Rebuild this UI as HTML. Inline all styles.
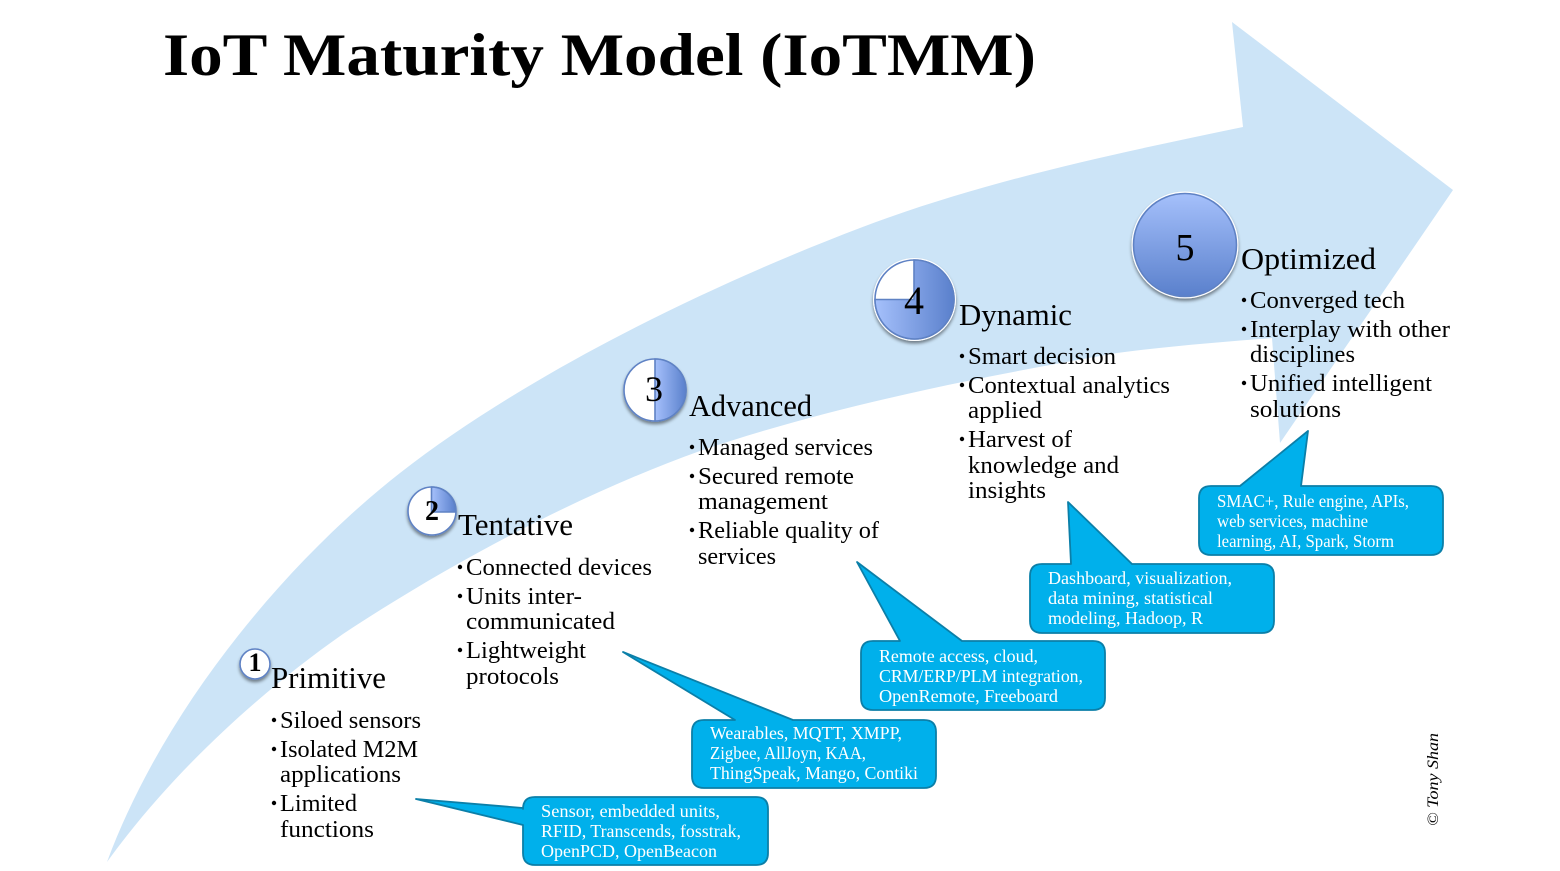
<!DOCTYPE html>
<html><head><meta charset="utf-8"><style>
html,body{margin:0;padding:0;background:#fff}
svg{display:block}
text{font-family:"Liberation Serif",serif;fill:#000}
.h{font-size:31px}
.b{font-size:24px}
.c{font-size:17.5px;fill:#fff}
</style></head><body>
<svg width="1560" height="871" viewBox="0 0 1560 871" xmlns="http://www.w3.org/2000/svg">
<defs>
<linearGradient id="gh" x1="0" y1="0" x2="1" y2="0"><stop offset="0" stop-color="#a5c0fb"/><stop offset="1" stop-color="#5a80cc"/></linearGradient>
<linearGradient id="gv" x1="0" y1="0" x2="0" y2="1"><stop offset="0" stop-color="#a5c0fb"/><stop offset="1" stop-color="#5a80cc"/></linearGradient>
<filter id="sh" x="-30%" y="-30%" width="160%" height="160%"><feDropShadow dx="0" dy="2.500" stdDeviation="1.500" flood-color="#000" flood-opacity=".45"/></filter>
</defs>
<path fill="#cce4f7" d="M107,862 C165,705 290,559 400,473 C525,375.500 705,287 860,228 C985,180.500 1118,153 1243,127 L1232,22 L1453,190 L1280,443 L1272,338 C1220,342 1170,346 1117,353 C985,376 835,405 700,451 C580,494 452,562 343,634 C270,685 177,765 107,862 Z"/>

<text x="163" y="75" font-size="60" font-weight="bold" textLength="873" lengthAdjust="spacingAndGlyphs">IoT Maturity Model (IoTMM)</text>

<!-- callouts -->
<g fill="#00b0eb" stroke="#0b7fa8" stroke-width="1.800" stroke-linejoin="round">
<path d="M535,797 H756 Q768,797 768,809 V853 Q768,865 756,865 H535 Q523,865 523,853 V825 L416,799 L523,808 V809 Q523,797 535,797 Z"/>
<path d="M704,720 H735 L623,652 L793,720 H924 Q936,720 936,732 V776 Q936,788 924,788 H704 Q692,788 692,776 V732 Q692,720 704,720 Z"/>
<path d="M873,641 H900 L857,562 L962,641 H1093 Q1105,641 1105,653 V698 Q1105,710 1093,710 H873 Q861,710 861,698 V653 Q861,641 873,641 Z"/>
<path d="M1042,564 H1071 L1068,502 L1132,564 H1262 Q1274,564 1274,576 V621 Q1274,633 1262,633 H1042 Q1030,633 1030,621 V576 Q1030,564 1042,564 Z"/>
<path d="M1211,486 H1240 L1308,431 L1301,486 H1431 Q1443,486 1443,498 V543 Q1443,555 1431,555 H1211 Q1199,555 1199,543 V498 Q1199,486 1211,486 Z"/>
</g>

<text class="c" x="541" y="817" textLength="179" lengthAdjust="spacingAndGlyphs">Sensor, embedded units,</text>
<text class="c" x="541" y="837" textLength="200" lengthAdjust="spacingAndGlyphs">RFID, Transcends, fosstrak,</text>
<text class="c" x="541" y="857" textLength="176" lengthAdjust="spacingAndGlyphs">OpenPCD, OpenBeacon</text>
<text class="c" x="710" y="739" textLength="192" lengthAdjust="spacingAndGlyphs">Wearables, MQTT, XMPP,</text>
<text class="c" x="710" y="759" textLength="156" lengthAdjust="spacingAndGlyphs">Zigbee, AllJoyn, KAA,</text>
<text class="c" x="710" y="779" textLength="208" lengthAdjust="spacingAndGlyphs">ThingSpeak, Mango, Contiki</text>
<text class="c" x="879" y="662" textLength="159" lengthAdjust="spacingAndGlyphs">Remote access, cloud,</text>
<text class="c" x="879" y="682" textLength="204" lengthAdjust="spacingAndGlyphs">CRM/ERP/PLM integration,</text>
<text class="c" x="879" y="702" textLength="179" lengthAdjust="spacingAndGlyphs">OpenRemote, Freeboard</text>
<text class="c" x="1048" y="584" textLength="184" lengthAdjust="spacingAndGlyphs">Dashboard, visualization,</text>
<text class="c" x="1048" y="604" textLength="165" lengthAdjust="spacingAndGlyphs">data mining, statistical</text>
<text class="c" x="1048" y="624" textLength="155" lengthAdjust="spacingAndGlyphs">modeling, Hadoop, R</text>
<text class="c" x="1217" y="507" textLength="192" lengthAdjust="spacingAndGlyphs">SMAC+, Rule engine, APIs,</text>
<text class="c" x="1217" y="527" textLength="151" lengthAdjust="spacingAndGlyphs">web services, machine</text>
<text class="c" x="1217" y="547" textLength="177" lengthAdjust="spacingAndGlyphs">learning, AI, Spark, Storm</text>

<!-- Harvey balls -->
<g stroke="#5f82c4" stroke-width="1.600">
<circle cx="255" cy="664" r="15" fill="#fff" filter="url(#sh)"/>
<circle cx="432" cy="511" r="24" fill="#fff" filter="url(#sh)"/>
<path d="M431.500,512 V487 A24,24 0 0 1 455.500,512 Z" fill="url(#gh)"/>
<circle cx="655" cy="390" r="31" fill="#fff" filter="url(#sh)"/>
<path d="M655,359 A31,31 0 0 1 655,421 Z" fill="url(#gh)"/>
<circle cx="914.500" cy="299.500" r="41.500" fill="#fff" stroke="none" filter="url(#sh)"/>
<circle cx="914.500" cy="299.500" r="39.500" fill="#fff"/>
<path d="M914,299.500 V260 A39.500,39.500 0 1 1 875,299.500 Z" fill="url(#gh)"/>
<circle cx="1185" cy="245" r="53.500" fill="#fff" stroke="none" filter="url(#sh)"/>
<circle cx="1185" cy="245" r="51.500" fill="url(#gv)"/>
</g>
<text x="255" y="671" font-size="26" font-weight="bold" text-anchor="middle">1</text>
<text x="432" y="520" font-size="28" font-weight="bold" text-anchor="middle">2</text>
<text x="654" y="401" font-size="36" text-anchor="middle">3</text>
<text x="914" y="314" font-size="40" text-anchor="middle">4</text>
<text x="1185" y="260" font-size="38" text-anchor="middle">5</text>

<!-- Headings -->
<text class="h" x="271" y="688" textLength="115" lengthAdjust="spacingAndGlyphs">Primitive</text>
<text class="h" x="458" y="535" textLength="115" lengthAdjust="spacingAndGlyphs">Tentative</text>
<text class="h" x="689" y="416" textLength="123" lengthAdjust="spacingAndGlyphs">Advanced</text>
<text class="h" x="959" y="325" textLength="113" lengthAdjust="spacingAndGlyphs">Dynamic</text>
<text class="h" x="1241" y="269" textLength="135" lengthAdjust="spacingAndGlyphs">Optimized</text>

<!-- Bullets -->
<g fill="#000">
<circle cx="274" cy="720" r="2.200"/><circle cx="274" cy="749" r="2.200"/><circle cx="274" cy="803" r="2.200"/>
<circle cx="460" cy="567" r="2.200"/><circle cx="460" cy="596" r="2.200"/><circle cx="460" cy="650" r="2.200"/>
<circle cx="692" cy="447" r="2.200"/><circle cx="692" cy="476" r="2.200"/><circle cx="692" cy="530" r="2.200"/>
<circle cx="962" cy="356" r="2.200"/><circle cx="962" cy="385" r="2.200"/><circle cx="962" cy="439" r="2.200"/>
<circle cx="1244" cy="300" r="2.200"/><circle cx="1244" cy="329" r="2.200"/><circle cx="1244" cy="383" r="2.200"/>
</g>

<text class="b" x="280" y="728" textLength="141" lengthAdjust="spacingAndGlyphs">Siloed sensors</text>
<text class="b" x="280" y="757" textLength="138" lengthAdjust="spacingAndGlyphs">Isolated M2M</text>
<text class="b" x="280" y="782" textLength="121" lengthAdjust="spacingAndGlyphs">applications</text>
<text class="b" x="280" y="811" textLength="77" lengthAdjust="spacingAndGlyphs">Limited</text>
<text class="b" x="280" y="837" textLength="94" lengthAdjust="spacingAndGlyphs">functions</text>

<text class="b" x="466" y="575" textLength="186" lengthAdjust="spacingAndGlyphs">Connected devices</text>
<text class="b" x="466" y="604" textLength="116" lengthAdjust="spacingAndGlyphs">Units inter-</text>
<text class="b" x="466" y="629" textLength="149" lengthAdjust="spacingAndGlyphs">communicated</text>
<text class="b" x="466" y="658" textLength="120" lengthAdjust="spacingAndGlyphs">Lightweight</text>
<text class="b" x="466" y="684" textLength="93" lengthAdjust="spacingAndGlyphs">protocols</text>

<text class="b" x="698" y="455" textLength="175" lengthAdjust="spacingAndGlyphs">Managed services</text>
<text class="b" x="698" y="484" textLength="156" lengthAdjust="spacingAndGlyphs">Secured remote</text>
<text class="b" x="698" y="509" textLength="130" lengthAdjust="spacingAndGlyphs">management</text>
<text class="b" x="698" y="538" textLength="181" lengthAdjust="spacingAndGlyphs">Reliable quality of</text>
<text class="b" x="698" y="564" textLength="78" lengthAdjust="spacingAndGlyphs">services</text>

<text class="b" x="968" y="364" textLength="148" lengthAdjust="spacingAndGlyphs">Smart decision</text>
<text class="b" x="968" y="393" textLength="202" lengthAdjust="spacingAndGlyphs">Contextual analytics</text>
<text class="b" x="968" y="418" textLength="74" lengthAdjust="spacingAndGlyphs">applied</text>
<text class="b" x="968" y="447" textLength="104" lengthAdjust="spacingAndGlyphs">Harvest of</text>
<text class="b" x="968" y="473" textLength="151" lengthAdjust="spacingAndGlyphs">knowledge and</text>
<text class="b" x="968" y="498" textLength="78" lengthAdjust="spacingAndGlyphs">insights</text>

<text class="b" x="1250" y="308" textLength="155" lengthAdjust="spacingAndGlyphs">Converged tech</text>
<text class="b" x="1250" y="337" textLength="200" lengthAdjust="spacingAndGlyphs">Interplay with other</text>
<text class="b" x="1250" y="362" textLength="105" lengthAdjust="spacingAndGlyphs">disciplines</text>
<text class="b" x="1250" y="391" textLength="182" lengthAdjust="spacingAndGlyphs">Unified intelligent</text>
<text class="b" x="1250" y="417" textLength="91" lengthAdjust="spacingAndGlyphs">solutions</text>

<text transform="translate(1438,826) rotate(-90)" font-size="16" font-style="italic" textLength="93" lengthAdjust="spacingAndGlyphs">© Tony Shan</text>
</svg>
</body></html>
